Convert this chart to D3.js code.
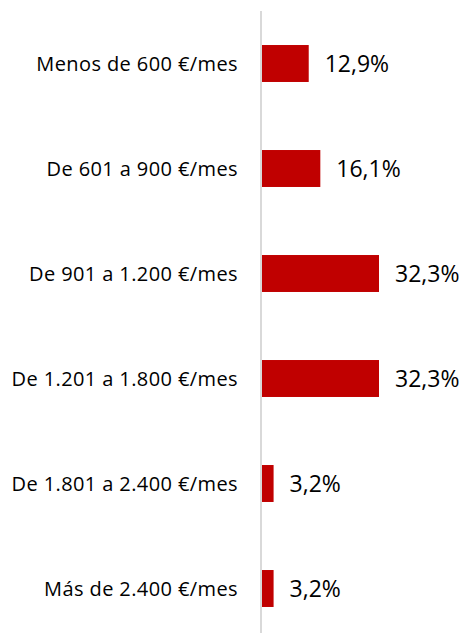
<!DOCTYPE html>
<html>
<head>
<meta charset="utf-8">
<script src="https://cdn.jsdelivr.net/npm/d3@7"></script>
<style>
  body { margin: 0; background: #fff; }
  svg { display: block; }
</style>
</head>
<body>
<div id="chart"></div>
<script>
const categories = [
    "Menos de 600 €/mes",
    "De 601 a 900 €/mes",
    "De 901 a 1.200 €/mes",
    "De 1.201 a 1.800 €/mes",
    "De 1.801 a 2.400 €/mes",
    "Más de 2.400 €/mes"
];
const values = [12.9, 16.1, 32.3, 32.3, 3.2, 3.2];

const WIDTH = 465, HEIGHT = 633;
const AXIS_X = 261;
const FONT = "'Open Sans', Lato, sans-serif";

const fmt = v => d3.format(".1f")(v).replace(".", ",") + "%";

const svg = d3.select("#chart").append("svg")
    .attr("width", WIDTH)
    .attr("height", HEIGHT);

const y = d3.scaleBand()
    .domain(categories)
    .range([11, 641])
    .paddingInner(0.648)
    .paddingOuter(0.324);

const x = d3.scaleLinear()
    .domain([0, 32.3])
    .range([AXIS_X + 1, 379]);

const data = categories.map((c, i) => ({cat: c, value: values[i]}));

svg.selectAll("rect.bar")
    .data(data)
    .enter()
    .append("rect")
    .attr("class", "bar")
    .attr("x", x(0))
    .attr("y", d => y(d.cat))
    .attr("width", d => x(d.value) - x(0))
    .attr("height", y.bandwidth())
    .attr("fill", "#c00000")

svg.append("line")
    .attr("x1", AXIS_X).attr("x2", AXIS_X)
    .attr("y1", 11).attr("y2", HEIGHT)
    .attr("stroke", "#d9d9d9")
    .attr("stroke-width", 2)

svg.selectAll("text.cat")
    .data(data)
    .enter()
    .append("text")
    .attr("class", "cat")
    .attr("x", 238)
    .attr("y", d => y(d.cat) + y.bandwidth() / 2)
    .attr("dy", "0.35em")
    .attr("text-anchor", "end")
    .style("font-family", FONT)
    .style("font-size", "20px")
    .style("letter-spacing", "0.4px")
    .attr("fill", "#000")
    .text(d => d.cat)

svg.selectAll("text.val")
    .data(data)
    .enter()
    .append("text")
    .attr("class", "val")
    .attr("x", d => x(d.value) + 16)
    .attr("y", d => y(d.cat) + y.bandwidth() / 2)
    .attr("dy", "0.35em")
    .style("font-family", FONT)
    .style("font-size", "23px")
    .attr("fill", "#000")
    .text(d => fmt(d.value))
</script>
</body>
</html>
